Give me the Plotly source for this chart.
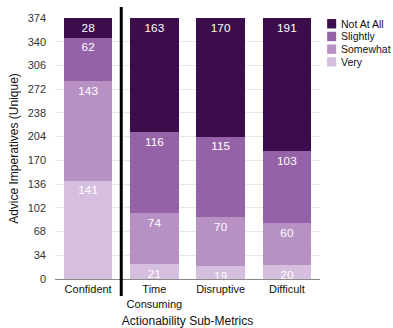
import plotly.graph_objects as go

categories = ["Confident", "Time<br>Consuming", "Disruptive", "Difficult"]
levels = ["Very", "Somewhat", "Slightly", "Not At All"]
very = [141, 21, 19, 20]
somewhat = [143, 74, 70, 60]
slightly = [62, 116, 115, 103]
not_at_all = [28, 163, 170, 191]
y_ticks = [0, 34, 68, 102, 136, 170, 204, 238, 272, 306, 340, 374]

series = [very, somewhat, slightly, not_at_all]
colors = ["#d6bedf", "#b791c4", "#9562a7", "#3c0d4b"]
FONT = "Liberation Sans, Arial"

fig = go.Figure()
for name, vals, col in zip(levels, series, colors):
    fig.add_trace(go.Bar(
        x=categories, y=vals, name=name,
        marker=dict(color=col, line=dict(width=0)),
        text=vals, textposition="inside", insidetextanchor="end",
        textfont=dict(color="white", size=13, family=FONT),
        textangle=0, showlegend=False,
    ))

# separator between the overall metric and its sub-metrics
fig.add_shape(type="line", xref="x", yref="paper", x0=0.5, x1=0.5,
              y0=-0.065, y1=1.042, line=dict(color="black", width=3))

# compact legend: swatch + label per level, top entry = "Not At All"
row_h = 12.7 / 261.0
for i, (name, col) in enumerate(zip(levels[::-1], colors[::-1])):
    yc = 1.0 - 0.022 - i * row_h
    fig.add_shape(type="rect", xref="paper", yref="paper",
                  x0=1.027, x1=1.061, y0=yc - 0.018, y1=yc + 0.018,
                  fillcolor=col, line=dict(width=0))
    fig.add_annotation(xref="paper", yref="paper", x=1.077, y=yc,
                       xanchor="left", yanchor="middle", showarrow=False,
                       borderpad=0, text=name,
                       font=dict(size=10.5, color="#111", family=FONT))

fig.update_layout(
    barmode="stack", bargap=0.27,
    width=393, height=328,
    margin=dict(l=55, r=73, t=18, b=49, autoexpand=False),
    paper_bgcolor="white", plot_bgcolor="white",
    font=dict(family=FONT, size=11, color="#222"),
    uniformtext=dict(minsize=8, mode="show"),
    xaxis=dict(tickfont=dict(size=11, color="#111"), showline=True,
               linecolor="#888", linewidth=1, ticks="", automargin=False,
               title=dict(text="Actionability Sub-Metrics", font=dict(size=12, color="#111"),
                          standoff=12)),
    yaxis=dict(range=[0, 374], tickvals=y_ticks, showgrid=True, gridcolor="#e6e6e6",
               zeroline=False, tickfont=dict(size=11, color="#333"), automargin=False,
               ticklabelstandoff=8,
               title=dict(text="Advice Imperatives (Unique)", font=dict(size=12, color="#111"),
                          standoff=6)),
)

fig.write_html("out.html")
